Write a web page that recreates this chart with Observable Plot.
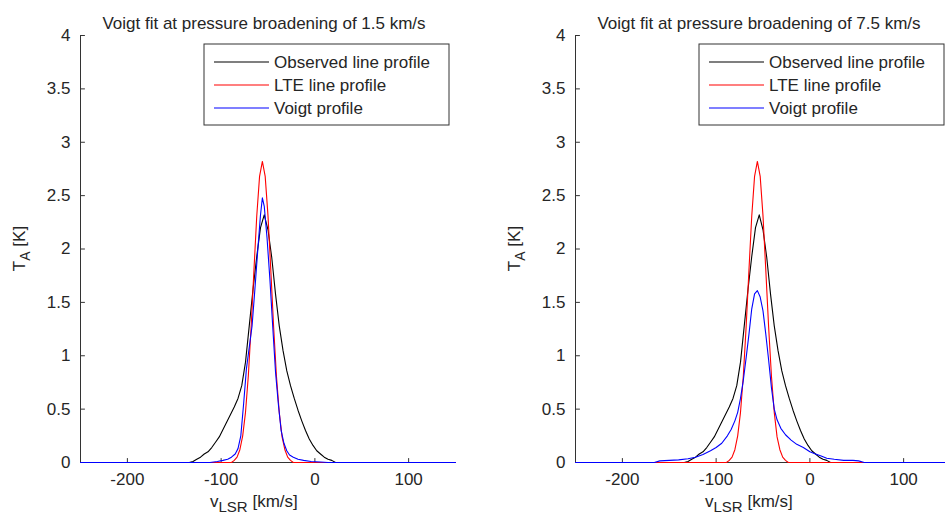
<!DOCTYPE html>
<html><head><meta charset="utf-8">
<script src="https://cdn.jsdelivr.net/npm/d3@7"></script>
<script src="https://cdn.jsdelivr.net/npm/@observablehq/plot@0.6"></script>
<style>
body{margin:0;background:#fff;}
#wrap{position:relative;width:945px;height:520px;overflow:hidden;background:#fff;}
#wrap svg{position:absolute;top:0;}
</style></head><body><div id="wrap"></div>
<script>
const xDomain = [-250, 150];
const yDomain = [0, 4];
const xTicks = [-200, -100, 0, 100];
const yTicks = [0, 0.5, 1, 1.5, 2, 2.5, 3, 3.5, 4];
const titles = ["Voigt fit at pressure broadening of 1.5 km/s", "Voigt fit at pressure broadening of 7.5 km/s"];
const seriesNames = ["Observed line profile", "LTE line profile", "Voigt profile"];
const seriesColors = ["#000000", "#ff0000", "#0000ff"];

const observedV = [-250,-134,-130,-126,-122,-118,-114,-110,-106,-102,-98,-94,-90,-86,-82,-78,-74,-70,-66,-62,-58,-54,-50,-46,-42,-38,-34,-30,-26,-22,-18,-14,-10,-6,-2,2,6,10,14,18,22,150];
const observedT = [0,0,0.01,0.03,0.05,0.08,0.10,0.14,0.19,0.24,0.31,0.38,0.45,0.52,0.60,0.72,0.94,1.28,1.62,1.93,2.20,2.32,2.18,1.92,1.58,1.28,1.05,0.86,0.72,0.60,0.49,0.39,0.30,0.22,0.16,0.11,0.08,0.05,0.03,0.02,0,0];

const lteV = [-250,-89,-86,-83,-80,-77,-74,-71,-68,-65,-62,-59,-56,-53,-50,-47,-44,-41,-38,-35,-32,-29,-26,-23,150];
const lteT = [0,0,0.02,0.05,0.12,0.25,0.47,0.81,1.27,1.80,2.31,2.68,2.82,2.68,2.31,1.80,1.27,0.81,0.47,0.24,0.12,0.05,0.02,0,0];

const voigt15V = [-250,-112,-104,-98,-93,-89,-85,-82,-79,-76,-73,-70,-67,-64,-61,-58,-56,-54,-51,-48,-45,-42,-39,-36,-33,-30,-27,-23,-18,-12,-4,6,14,150];
const voigt15T = [0,0,0.01,0.02,0.03,0.05,0.08,0.13,0.25,0.55,0.88,1.08,1.28,1.62,1.98,2.32,2.48,2.40,2.10,1.72,1.28,0.85,0.55,0.30,0.18,0.11,0.07,0.05,0.03,0.02,0.01,0.005,0,0];

const voigt75V = [-250,-166,-160,-150,-140,-130,-122,-114,-106,-100,-94,-88,-84,-80,-77,-74,-71,-68,-65,-62,-59,-56,-53,-50,-47,-44,-41,-38,-35,-31,-26,-20,-14,-7,0,6,12,18,26,36,46,52,58,150];
const voigt75T = [0,0,0.015,0.02,0.025,0.035,0.05,0.075,0.11,0.14,0.18,0.25,0.31,0.39,0.47,0.60,0.77,0.98,1.20,1.44,1.58,1.61,1.55,1.42,1.20,0.96,0.70,0.50,0.40,0.32,0.26,0.21,0.17,0.14,0.10,0.08,0.06,0.04,0.03,0.02,0.02,0.015,0,0];

const FONT = "'Liberation Sans', Arial, Helvetica, sans-serif";
const W = 470, H = 520, ML = 80, MR = 15, MT = 35, MB = 58;
const tickShape = {draw(context, l) { context.moveTo(0, 0); context.lineTo(0, -l); }};

function rows(vs, ts) { return vs.map((v, i) => ({v, t: ts[i]})); }

function panel(title, voigtV, voigtT, left) {
  const series = [rows(observedV, observedT), rows(lteV, lteT), rows(voigtV, voigtT)];
  const svg = Plot.plot({
    width: W, height: H, marginLeft: ML, marginRight: MR, marginTop: MT, marginBottom: MB,
    x: {domain: xDomain, label: null},
    y: {domain: yDomain, label: null},
    style: {fontFamily: FONT, fontSize: "17px", color: "#262626", background: "transparent", overflow: "visible"},
    marks: [
      Plot.axisX({ticks: xTicks, tickSize: 0, tickPadding: 10, tickFormat: d => String(d), fontSize: 17}),
      Plot.axisY({ticks: yTicks, tickSize: 0, tickPadding: 10, tickFormat: d => String(d), fontSize: 17}),
      Plot.vector(xTicks, {x: d => d, y: yDomain[0], length: 4, rotate: 0, anchor: "start", shape: tickShape, stroke: "#333", strokeWidth: 1}),
      Plot.vector(yTicks, {x: xDomain[0], y: d => d, length: 4, rotate: 90, anchor: "start", shape: tickShape, stroke: "#333", strokeWidth: 1}),
      Plot.ruleY([yDomain[0]], {stroke: "#333", strokeWidth: 1}),
      Plot.ruleX([xDomain[0]], {stroke: "#333", strokeWidth: 1}),
      ...series.map((s, i) => Plot.line(s, {x: "v", y: "t", stroke: seriesColors[i], strokeWidth: 1.1})),
      Plot.text([title], {frameAnchor: "top", dy: -19, dx: -4, fontSize: 17, fill: "#262626"})
    ]
  });
  svg.style.left = left + "px";
  const g = d3.select(svg);
  // y label
  const yl = g.append("text")
    .attr("transform", `translate(25,${(MT + H - MB) / 2}) rotate(-90)`)
    .attr("text-anchor", "middle").attr("font-size", 17).attr("fill", "#262626").attr("font-family", FONT);
  yl.append("tspan").text("T");
  yl.append("tspan").attr("dy", 5).attr("font-size", 14).text("A");
  yl.append("tspan").attr("dy", -5).text(" [K]");
  // x label
  const xl = g.append("text")
    .attr("x", ML + 130).attr("y", 507).attr("text-anchor", "start")
    .attr("font-size", 17).attr("fill", "#262626").attr("font-family", FONT);
  xl.append("tspan").text("v");
  xl.append("tspan").attr("dy", 5).attr("font-size", 15).text("LSR");
  xl.append("tspan").attr("dy", -5).text(" [km/s]");
  // legend
  const lg = g.append("g").attr("transform", `translate(${ML + 124},44)`);
  lg.append("rect").attr("x", 0).attr("y", 0).attr("width", 245).attr("height", 81)
    .attr("fill", "#fff").attr("stroke", "#333").attr("stroke-width", 1);
  seriesNames.forEach((name, i) => {
    const yy = 18 + i * 23;
    lg.append("path").attr("d", `M10,${yy}H65`)
      .attr("fill", "none").style("stroke", seriesColors[i]).style("stroke-width", "1.2px");
    lg.append("text").attr("x", 70).attr("y", yy).attr("dy", "0.35em").attr("text-anchor", "start")
      .attr("font-size", 17).attr("fill", "#262626").attr("font-family", FONT).text(name);
  });
  return svg;
}

const wrap = document.getElementById("wrap");
wrap.appendChild(panel(titles[0], voigt15V, voigt15T, 0));
wrap.appendChild(panel(titles[1], voigt75V, voigt75T, 495));
</script></body></html>
